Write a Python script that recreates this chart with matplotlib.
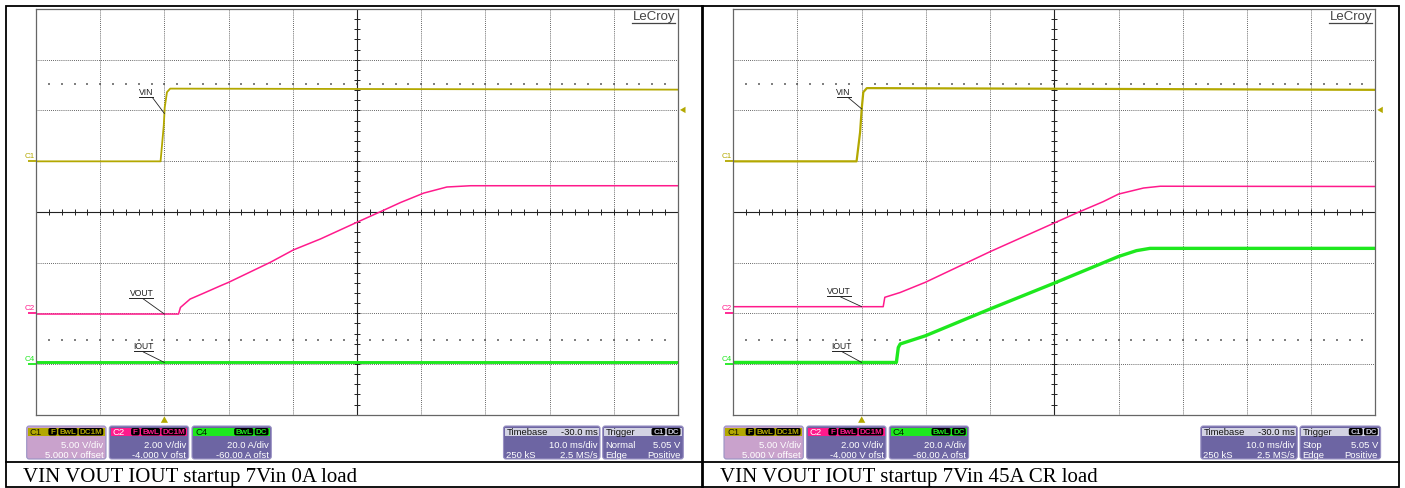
import numpy as np
import matplotlib.pyplot as plt
from matplotlib.patches import FancyBboxPatch, Rectangle, Polygon

# ---- waveforms, time in ms from trigger ----
# 7Vin startup, 0A load
t_vin_0a = [-20, -0.6, -0.1, 0.05, 0.4, 0.9, 80]
vin_0a = [-0.02, -0.02, 3.5, 5.3, 6.8, 7.15, 7.05]
t_vout_0a = [-20, 2.2, 2.5, 4.0, 6.1, 8.7, 10.0, 16.5, 20.1, 24.3, 30.0, 33.6,
             36.8, 40.4, 44.0, 47.7, 80]
vout_0a = [-0.03, -0.03, 0.23, 0.56, 0.79, 1.08, 1.22, 2.01, 2.50, 2.93, 3.59,
           4.00, 4.37, 4.74, 4.98, 5.03, 5.03]
t_iout_0a = [-20, 80]
iout_0a = [0.6, 0.6]

# 7Vin startup, 45A CR load
t_vin_45a = [-20, -0.8, -0.25, 0.0, 0.25, 0.8, 80]
vin_45a = [-0.02, -0.02, 2.85, 5.15, 6.8, 7.2, 7.03]
t_vout_45a = [-20, 3.35, 3.6, 6.0, 9.9, 20.0, 29.9, 33.7, 37.6, 40.0, 43.9, 46.5, 80]
vout_45a = [0.26, 0.26, 0.63, 0.82, 1.22, 2.43, 3.55, 3.98, 4.40, 4.70, 4.94, 5.01, 5.0]
t_iout_45a = [-20, 5.4, 5.7, 6.0, 9.9, 20.0, 29.9, 40.0, 42.8, 44.9, 80]
iout_45a = [0.6, 0.6, 6.5, 7.9, 11.1, 21.7, 31.8, 42.4, 44.7, 45.6, 45.6]

captions = ["VIN VOUT IOUT startup 7Vin 0A load",
            "VIN VOUT IOUT startup 7Vin 45A CR load"]
trig_mode = ["Normal", "Stop"]

# channel setup: units per division and offset
ch_names = ["C1", "C2", "C4"]
ch_scale = [5.0, 2.0, 20.0]
ch_offset = [5.0, -4.0, -60.0]
ch_scale_txt = ["5.00 V/div", "2.00 V/div", "20.0 A/div"]
ch_offset_txt = ["5.000 V offset", "-4.000 V ofst", "-60.00 A ofst"]
ch_badges = [["F", "BwL", "DC1M"], ["F", "BwL", "DC1M"], ["BwL", "DC"]]
ch_labels = ["VIN", "VOUT", "IOUT"]
trig_level = 5.05
timebase = "-30.0 ms"
time_div = "10.0 ms/div"
samples = "250 kS"
rate = "2.5 MS/s"

ch_colors = ["#b3a800", "#ff1a8c", "#1ee81e"]
head_txt = ["#1a1a00", "#ffffff", "#002000"]
body_colors = ["#c9a2cc", "#6d65a3", "#6d65a3"]

W, H = 1405, 489
GW, GY0, GH = 642, 10, 405.7
T0, T1 = -20, 80
SANS = "Liberation Sans"

fig = plt.figure(figsize=(W / 100, H / 100), dpi=100)
fig.patch.set_facecolor("white")


def px(ox, t):
    return ox + (t - T0) / (T1 - T0) * GW


def py(d):
    return GY0 + (4 - d) / 8 * GH


def to_div(vals, k):
    return (np.array(vals) + ch_offset[k]) / ch_scale[k]


def draw_grid(ox, traces, widths):
    ax = fig.add_axes([ox / W, 1 - (GY0 + GH) / H, GW / W, GH / H])
    ax.set_xlim(T0, T1)
    ax.set_ylim(-4, 4)
    ax.set_facecolor("none")
    ax.set_xticks([])
    ax.set_yticks([])
    for s in ax.spines.values():
        s.set_color("#666666")
        s.set_linewidth(0.9)
    for t in range(-10, 80, 10):
        if t != 30:
            ax.axvline(t, color="#333333", lw=0.6, ls=(0, (1, 1.5)))
    for d in range(-3, 4):
        if d != 0:
            ax.axhline(d, color="#333333", lw=0.6, ls=(0, (1, 1.5)))
    ax.axvline(30, color="#222222", lw=0.8)
    ax.axhline(0, color="#222222", lw=0.8)
    tt = np.arange(T0, T1 + 0.1, 2)
    dd = np.arange(-4, 4.01, 0.2)
    ax.vlines(tt, -0.06, 0.06, color="#222222", lw=0.7)
    ax.hlines(dd, 30 - 0.45, 30 + 0.45, color="#222222", lw=0.7)
    for d in (2.52, -2.52):
        ax.scatter(tt[1:-1], np.full(len(tt) - 2, d), s=1.3, marker="s",
                   color="#808080", lw=0)
    for k, (t, v) in enumerate(traces):
        ax.plot(t, to_div(v, k), color=ch_colors[k], lw=widths[k],
                solid_joinstyle="round")
    return ax


screens = [
    (36, [(t_vin_0a, vin_0a), (t_vout_0a, vout_0a), (t_iout_0a, iout_0a)],
     [1.3, 1.1, 2.1]),
    (733.3, [(t_vin_45a, vin_45a), (t_vout_45a, vout_45a), (t_iout_45a, iout_45a)],
     [1.6, 1.1, 2.4]),
]
for ox, tr, lw in screens:
    draw_grid(ox, tr, lw)

bg = fig.add_axes([0, 0, 1, 1])
bg.set_xlim(0, W)
bg.set_ylim(H, 0)
bg.axis("off")
bg.set_facecolor("none")


def badge_row(x_right, yc, names, fc_txt):
    x = x_right
    for name in reversed(names):
        w = 4.0 + 5.3 * len(name)
        x -= w
        bg.add_patch(FancyBboxPatch((x, yc - 3.7), w - 0.8, 7.4,
                                    boxstyle="round,pad=0,rounding_size=1.8",
                                    fc="black", ec="none"))
        bg.text(x + (w - 0.8) / 2, yc + 0.2, name, fontsize=5.8, family=SANS,
                weight="bold", color=fc_txt, ha="center", va="center")
        x -= 0.6


def info_box(x0, x1, head_col, body_col, head_left, head_left_col,
             badges, badge_col, rows):
    y0, y1 = 427, 460
    bg.add_patch(FancyBboxPatch((x0, y0), x1 - x0, y1 - y0,
                                boxstyle="round,pad=0,rounding_size=2.5",
                                fc=body_col, ec="#9a92c4", lw=0.8))
    bg.add_patch(Rectangle((x0 + 1.3, y0 + 1.5), x1 - x0 - 2.6, 8.3,
                           fc=head_col, ec="none"))
    bg.text(x0 + 3, y0 + 5.9, head_left[0], fontsize=6.8, family=SANS,
            color=head_left_col, ha="left", va="center")
    if head_left[1]:
        bg.text(x1 - 2.5, y0 + 5.9, head_left[1], fontsize=6.8, family=SANS,
                color=head_left_col, ha="right", va="center")
    if badges:
        badge_row(x1 - 2, y0 + 5.7, badges, badge_col)
    for (left, right), yy in zip(rows, (445.5, 455.2)):
        if left:
            bg.text(x0 + 2.5, yy, left, fontsize=6.8, family=SANS,
                    color="white", ha="left", va="center")
        if right:
            bg.text(x1 - 2.5, yy, right, fontsize=6.8, family=SANS,
                    color="white", ha="right", va="center")


# label placement: (underline y, text width, leader start offset)
label_geo = [
    [(97.5, 14, 12), (299, 24, 21), (352, 19, 21)],
    [(98, 14, 13), (297, 24, 21), (351.5, 19, 20)],
]

for si, (ox, tr, _) in enumerate(screens):
    tx = px(ox, 0)
    # channel zero-level markers
    for k in range(3):
        yz = py(ch_offset[k] / ch_scale[k])
        bg.plot([ox - 8, ox], [yz, yz], color=ch_colors[k], lw=1.3,
                solid_capstyle="butt")
        bg.text(ox - 6.5, yz - 5.8, ch_names[k], fontsize=5.8, family=SANS,
                color=ch_colors[k], ha="center", va="center")
    # trace labels with leader lines
    for k, (uy, w, lo) in enumerate(label_geo[si]):
        t, v = tr[k]
        yt = py(np.interp(0, t, to_div(v, k)))
        bg.text(tx - 11 - w / 2, uy - 0.8, ch_labels[k], fontsize=6.2, family=SANS,
                color="#222222", ha="center", va="bottom")
        bg.plot([tx - 11 - w, tx - 11], [uy, uy], color="#222222", lw=0.7)
        bg.plot([tx - lo, tx], [uy + 1, yt], color="#222222", lw=0.6)
    # trigger position and level markers
    bg.add_patch(Polygon([[tx, 417.3], [tx - 3.6, 423.8], [tx + 3.6, 423.8]],
                         closed=True, fc=ch_colors[0], ec="none"))
    yl = py((trig_level + ch_offset[0]) / ch_scale[0])
    xr = ox + GW
    bg.add_patch(Polygon([[xr + 2, yl], [xr + 7.5, yl - 3.2], [xr + 7.5, yl + 3.2]],
                         closed=True, fc=ch_colors[0], ec="none"))
    # brand mark
    bg.text(xr - 3, 17.3, "LeCroy", fontsize=9.5, family=SANS, color="#444444",
            ha="right", va="center")
    bg.plot([xr - 46, xr - 3], [23.6, 23.6], color="#444444", lw=0.9)

    # channel boxes
    dx = ox - 36
    box_x = [(26.7, 106), (109.3, 188.7), (192, 271.3)]
    for k in range(3):
        info_box(box_x[k][0] + dx, box_x[k][1] + dx, ch_colors[k], body_colors[k],
                 (ch_names[k], ""), head_txt[k], ch_badges[k], ch_colors[k],
                 [("", ch_scale_txt[k]), ("", ch_offset_txt[k])])
    info_box(503.5 + dx, 600 + dx, "#d3d3e3", "#6d65a3", ("Timebase", timebase),
             "#111111", None, None, [("", time_div), (samples, rate)])
    info_box(602.7 + dx, 683.3 + dx, "#d3d3e3", "#6d65a3", ("Trigger", ""),
             "#111111", ["C1", "DC"], "#c8c8d8",
             [(trig_mode[si], f"{trig_level:.2f} V"), ("Edge", "Positive")])

    # caption
    bg.text(ox - 13.3, 481.7, captions[si], fontsize=15, family="Liberation Serif",
            color="black", ha="left", va="baseline")

# table rules
bg.add_patch(Rectangle((6, 7), 1393, 481, fc="none", ec="black", lw=1.3))
bg.plot([702, 702], [7, 488], color="black", lw=2.0)
bg.plot([6, 1399], [462.5, 462.5], color="black", lw=1.3)

fig.savefig("out.png", dpi=100)
